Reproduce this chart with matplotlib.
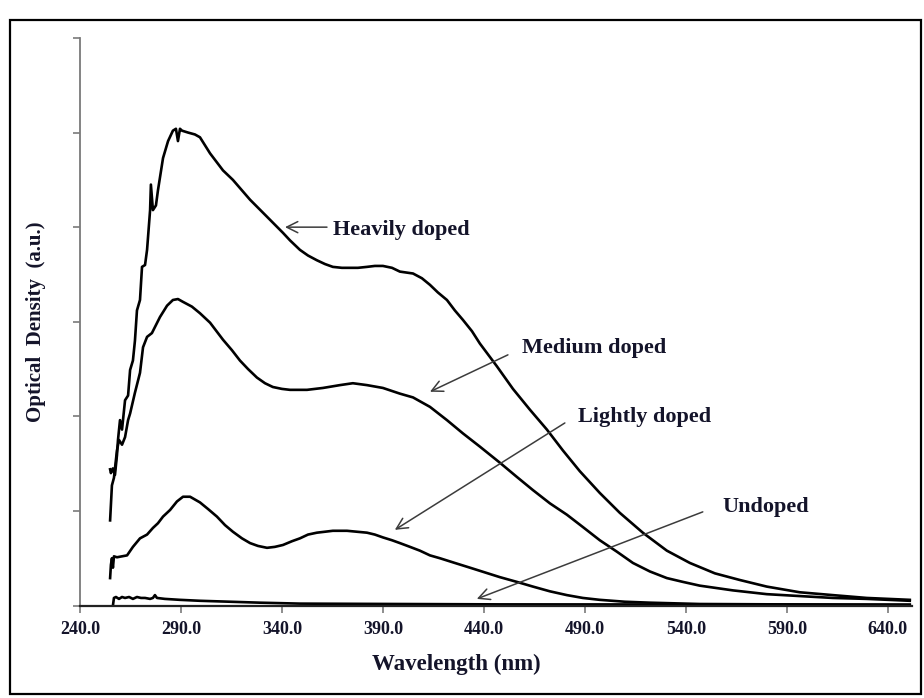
import matplotlib.pyplot as plt
from matplotlib.patches import Rectangle

# absorption spectra, wavelength in nm / optical density in arbitrary units
heavy_wl = [254.9, 255.3, 256.3, 257.3, 258.3, 258.8, 259.8, 260.8, 262.3, 263.8,
            264.8, 266.2, 267.2, 268.2, 269.7, 270.7, 272.2, 273.2, 274.7, 275.1,
            276.1, 277.6, 278.6, 281.1, 283.6, 286.0, 287.5, 288.5, 289.5, 290.5,
            293.5, 296.9, 299.4, 304.4, 310.8, 315.7, 324.2, 332.6, 340.5, 344.0,
            348.9, 352.9, 357.3, 361.3, 365.2, 369.7, 373.7, 377.6, 382.1, 386.0,
            390.0, 394.5, 398.4, 404.9, 409.3, 413.3, 417.2, 421.7, 425.6, 429.6,
            434.1, 438.0, 446.4, 454.4, 462.8, 471.2, 479.1, 487.5, 497.4, 507.3,
            518.7, 530.6, 542.0, 554.4, 566.7, 580.1, 596.4, 612.8, 629.6, 650.9]
heavy_od = [1.44, 1.40, 1.45, 1.38, 1.59, 1.75, 1.96, 1.86, 2.17, 2.22,
            2.49, 2.59, 2.80, 3.12, 3.23, 3.58, 3.60, 3.76, 4.18, 4.45,
            4.18, 4.23, 4.39, 4.73, 4.91, 5.02, 5.04, 4.91, 5.04, 5.02,
            5.00, 4.98, 4.95, 4.78, 4.60, 4.50, 4.29, 4.11, 3.94, 3.86,
            3.76, 3.70, 3.65, 3.61, 3.58, 3.57, 3.57, 3.57, 3.58, 3.59,
            3.59, 3.57, 3.53, 3.51, 3.46, 3.39, 3.31, 3.23, 3.12, 3.02,
            2.90, 2.77, 2.53, 2.29, 2.07, 1.86, 1.64, 1.42, 1.19, 0.98,
            0.77, 0.58, 0.45, 0.34, 0.27, 0.20, 0.14, 0.11, 0.08, 0.06]

medium_wl = [254.9, 255.8, 256.8, 258.3, 259.3, 260.8, 262.3, 263.8, 264.8, 267.2,
             269.7, 271.2, 273.2, 275.6, 279.6, 283.1, 286.0, 288.5, 291.0, 295.4,
             299.4, 304.4, 310.8, 315.2, 319.2, 323.2, 327.6, 331.6, 335.5, 340.0,
             344.0, 352.4, 360.3, 368.7, 375.1, 382.1, 390.0, 398.4, 404.9, 413.3,
             421.7, 429.6, 438.0, 447.9, 456.3, 464.3, 472.7, 481.1, 489.0, 497.4,
             505.8, 513.8, 522.2, 530.6, 538.5, 546.9, 563.3, 580.1, 596.4, 612.8,
             629.6, 650.9]
medium_od = [0.90, 1.27, 1.35, 1.64, 1.75, 1.70, 1.78, 1.96, 2.03, 2.25,
             2.46, 2.73, 2.84, 2.88, 3.05, 3.17, 3.23, 3.24, 3.21, 3.16,
             3.09, 2.99, 2.81, 2.70, 2.59, 2.50, 2.41, 2.35, 2.31, 2.29,
             2.28, 2.28, 2.30, 2.33, 2.35, 2.33, 2.30, 2.24, 2.20, 2.10,
             1.96, 1.82, 1.68, 1.51, 1.36, 1.22, 1.08, 0.96, 0.83, 0.69,
             0.57, 0.45, 0.36, 0.29, 0.25, 0.21, 0.16, 0.12, 0.10, 0.08,
             0.07, 0.05]

light_wl = [254.9, 255.3, 255.8, 256.3, 256.8, 258.3, 260.8, 263.3, 266.2, 269.7,
            273.2, 276.1, 278.6, 281.1, 284.6, 288.0, 291.0, 294.5, 299.4, 303.4,
            307.8, 311.8, 315.7, 320.2, 324.2, 328.1, 332.6, 336.5, 340.5, 345.0,
            348.9, 352.9, 357.3, 361.3, 365.2, 368.7, 372.2, 377.1, 382.1, 386.0,
            390.0, 394.5, 398.4, 403.4, 408.3, 413.3, 418.2, 425.6, 433.1, 440.5,
            447.9, 456.3, 464.3, 472.7, 481.1, 489.0, 497.4, 509.8, 522.2, 546.9,
            596.4, 650.9]
light_od = [0.29, 0.43, 0.50, 0.40, 0.52, 0.51, 0.52, 0.53, 0.62, 0.71,
            0.75, 0.82, 0.87, 0.94, 1.01, 1.10, 1.15, 1.15, 1.09, 1.02,
            0.94, 0.85, 0.78, 0.71, 0.66, 0.63, 0.61, 0.62, 0.64, 0.68,
            0.71, 0.75, 0.77, 0.78, 0.79, 0.79, 0.79, 0.78, 0.77, 0.75,
            0.72, 0.69, 0.66, 0.62, 0.58, 0.53, 0.50, 0.45, 0.40, 0.35,
            0.30, 0.25, 0.20, 0.15, 0.11, 0.08, 0.06, 0.04, 0.03, 0.016,
            0.011, 0.005]

undoped_wl = [256.3, 256.8, 257.8, 259.3, 260.8, 262.3, 264.3, 266.2, 268.2, 270.2,
              272.2, 274.7, 276.1, 277.1, 278.1, 282.0, 289.5, 299.4, 314.3, 329.1,
              349.0, 398.4, 447.9, 650.9]
undoped_od = [0.00, 0.08, 0.09, 0.07, 0.09, 0.08, 0.09, 0.07, 0.09, 0.08,
              0.08, 0.07, 0.08, 0.11, 0.08, 0.07, 0.06, 0.05, 0.04, 0.03,
              0.02, 0.016, 0.012, 0.01]

x_ticks = [240, 290, 340, 390, 440, 490, 540, 590, 640]
y_ticks = [0, 1, 2, 3, 4, 5, 6]

serif = ["Liberation Serif", "DejaVu Serif"]
ink = "#14142a"
axis_grey = "#7a7a7a"

fig = plt.figure(figsize=(9.24, 6.98), dpi=100)
ax = fig.add_axes([0.0866, 0.1325, 0.9004, 0.8131])

for wl, od in [(heavy_wl, heavy_od), (medium_wl, medium_od),
               (light_wl, light_od), (undoped_wl, undoped_od)]:
    ax.plot(wl, od, color="black", lw=1.9, solid_joinstyle="round")

ax.set_xlim(240, 652)
ax.set_ylim(0, 6)
ax.set_xticks(x_ticks)
ax.set_xticklabels([f"{t:.1f}" for t in x_ticks])
ax.set_yticks(y_ticks)
ax.set_yticklabels([])

for side in ("top", "right"):
    ax.spines[side].set_visible(False)
ax.spines["left"].set_color(axis_grey)
ax.spines["left"].set_linewidth(1.3)
ax.spines["bottom"].set_color("#222222")
ax.spines["bottom"].set_linewidth(1.6)
ax.tick_params(axis="both", direction="out", length=5, width=1.2, color=axis_grey)
ax.tick_params(axis="x", pad=6)
for lbl in ax.get_xticklabels():
    lbl.set_family(serif)
    lbl.set_fontweight("bold")
    lbl.set_fontsize(13)
    lbl.set_color(ink)

ax.set_xlabel("Wavelength (nm)", family=serif, fontweight="bold", fontsize=16.5,
              color=ink, labelpad=10)
ax.xaxis.set_label_coords(0.452, -0.085)
ax.set_ylabel("Optical  Density  (a.u.)", family=serif, fontweight="bold",
              fontsize=15, color=ink, labelpad=16)

# curve labels with thin arrows (text anchor, arrow tail, arrow tip)
labels = [
    ("Heavily doped", (365.2, 3.97), (362.3, 4.00), (341.5, 4.00)),
    ("Medium doped", (458.8, 2.72), (451.9, 2.65), (413.3, 2.26)),
    ("Lightly doped", (486.5, 1.99), (480.1, 1.93), (395.9, 0.80)),
    ("Undoped", (558.3, 1.04), (548.4, 0.99), (436.5, 0.07)),
]
for text, pos, tail, tip in labels:
    ax.annotate("", xy=tip, xytext=tail,
                arrowprops=dict(arrowstyle="->", color="#3c3c3c", lw=1.1,
                                mutation_scale=20, shrinkA=0, shrinkB=0))
    ax.text(pos[0], pos[1], text, family=serif, fontweight="bold", fontsize=16,
            color=ink, ha="left", va="center")

# outer frame around the whole figure
fig.patches.append(Rectangle((0.0105, 0.006), 0.986, 0.965, transform=fig.transFigure,
                             fill=False, edgecolor="black", lw=1.6))

fig.savefig("out.png", dpi=100)
